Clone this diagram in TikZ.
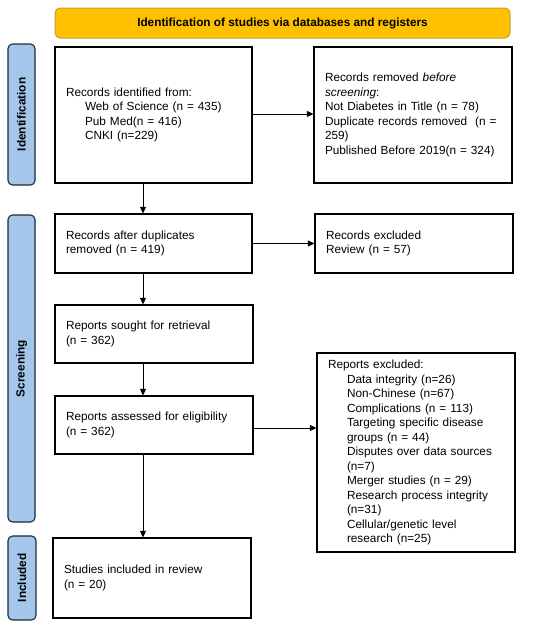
\documentclass[tikz,border=0pt]{standalone}
\usepackage{fontspec}
\setmainfont{Liberation Sans}
\usetikzlibrary{arrows.meta}
\definecolor{hdrfill}{HTML}{FFC000}
\definecolor{hdrdraw}{HTML}{C9A227}
\definecolor{sidefill}{HTML}{A3C6EA}
\definecolor{sidedraw}{HTML}{1E2A38}
\begin{document}
\begin{tikzpicture}[x=1pt,y=-1pt,
  every node/.style={font=\fontsize{11.8}{14.5}\selectfont},
  box/.style={draw, line width=1.2pt, inner xsep=11pt, inner ysep=0pt, align=left, anchor=center},
  hdr/.style={draw=hdrdraw, fill=hdrfill, line width=1pt, rounded corners=5pt, minimum width=455pt, minimum height=30pt, font=\fontsize{11.8}{14.5}\selectfont\bfseries},
  side/.style={draw=sidedraw, fill=sidefill, line width=1.1pt, rounded corners=4.5pt, rotate=90, inner sep=0pt, font=\fontsize{11.8}{14.5}\selectfont\bfseries},
  arr/.style={-{Triangle[length=6.5pt,width=6pt]}, line width=0.9pt}
]
\useasboundingbox (0,0) rectangle (550,629);

\node[hdr] (hdr) at (282.5,23) {Identification of studies via databases and registers};

\node[side, minimum width=141pt, minimum height=27pt] (sid) at (21.5,114.5) {Identification};
\node[side, minimum width=307pt, minimum height=27pt] (ssc) at (21.5,368.5) {Screening};
\node[side, minimum width=84pt, minimum height=28pt] (sin) at (22,578) {Included};

\node[box, text width=175pt, minimum height=136pt] (b1) at (153.5,115) {Records identified from:\\
\hspace*{19pt}Web of Science (n = 435)\\
\hspace*{19pt}Pub Med(n = 416)\\
\hspace*{19pt}CNKI (n=229)};

\node[box, text width=176pt, minimum height=136pt] (b2) at (413,115) {Records removed \textit{before}\\
\textit{screening}:\\
Not Diabetes in Title (n = 78)\\
Duplicate records removed~ (n =\\
259)\\
Published Before 2019(n = 324)};

\node[box, text width=175pt, minimum height=59pt] (b3) at (153.5,243.5) {Records after duplicates\\removed (n = 419)};

\node[box, text width=176pt, minimum height=59pt] (b4) at (414,243.5) {Records excluded\\Review (n = 57)};

\node[box, text width=176pt, minimum height=58pt] (b5) at (154,334) {Reports sought for retrieval\\(n = 362)};

\node[box, text width=176pt, minimum height=58pt] (b6) at (154,425) {Reports assessed for eligibility\\(n = 362)};

\node[box, text width=176pt, minimum height=199pt] (b7) at (416,452.5) {Reports excluded:\\
\hspace*{19pt}Data integrity (n=26)\\
\hspace*{19pt}Non-Chinese (n=67)\\
\hspace*{19pt}Complications (n = 113)\\
\hspace*{19pt}Targeting specific disease\\
\hspace*{19pt}groups (n = 44)\\
\hspace*{19pt}Disputes over data sources\\
\hspace*{19pt}(n=7)\\
\hspace*{19pt}Merger studies (n = 29)\\
\hspace*{19pt}Research process integrity\\
\hspace*{19pt}(n=31)\\
\hspace*{19pt}Cellular/genetic level\\
\hspace*{19pt}research (n=25)};

\node[box, text width=176pt, minimum height=80pt] (b8) at (152,578) {Studies included in review\\(n = 20)};

\draw[arr] ([yshift=1pt]b1.east) -- ([yshift=1pt]b1.east -| b2.west);
\draw[arr] (b3.east) -- (b4.west);
\draw[arr] ([yshift=-3pt]b6.east) -- ([yshift=-3pt]b6.east -| b7.west);
\draw[arr] ([xshift=-10.5pt]b1.south) -- ([xshift=-10.5pt]b1.south |- b3.north);
\draw[arr] ([xshift=-10.5pt]b3.south) -- ([xshift=-10.5pt]b3.south |- b5.north);
\draw[arr] ([xshift=-11pt]b5.south) -- ([xshift=-11pt]b5.south |- b6.north);
\draw[arr] ([xshift=-11pt]b6.south) -- ([xshift=-11pt]b6.south |- b8.north);
\end{tikzpicture}
\end{document}
